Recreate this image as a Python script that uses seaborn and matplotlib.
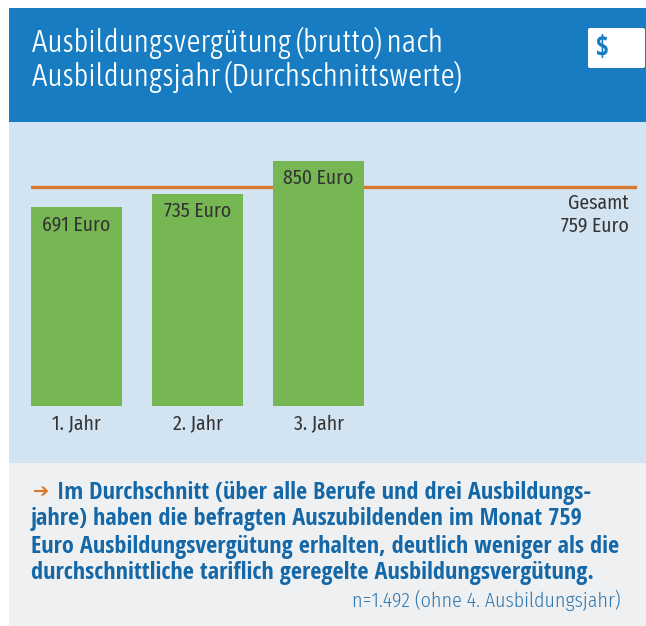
import matplotlib
matplotlib.use("Agg")
import matplotlib.pyplot as plt
from matplotlib.patches import Rectangle, FancyBboxPatch
from matplotlib import font_manager as fm
import seaborn as sns
import pandas as pd

TITLE_LINES = ["Ausbildungsvergütung (brutto) nach", "Ausbildungsjahr (Durchschnittswerte)"]
YEARS = ["1. Jahr", "2. Jahr", "3. Jahr"]
VALUES = [691, 735, 850]
OVERALL = 759
BODY_LINES = ["Im Durchschnitt (über alle Berufe und drei Ausbildungs-",
              "jahre) haben die befragten Auszubildenden im Monat 759",
              "Euro Ausbildungsvergütung erhalten, deutlich weniger als die",
              "durchschnittliche tariflich geregelte Ausbildungsvergütung."]
NOTE = "n=1.492 (ohne 4. Ausbildungsjahr)"

sns.set_theme(style="white")
have = {f.name for f in fm.fontManager.ttflist}
reg_prefs = ["Fira Sans Condensed", "Asap Condensed", "Roboto Condensed", "Open Sans"]
title_prefs = ["Asap Condensed", "Fira Sans Condensed", "Roboto Condensed", "Open Sans"]
bold_prefs = ["Open Sans Condensed", "Fira Sans Condensed", "Asap Condensed", "Open Sans"]
REG = [p for p in reg_prefs if p in have][:1] + ["DejaVu Sans"]
TITLE = [p for p in title_prefs if p in have][:1] + ["DejaVu Sans"]
BOLD = [p for p in bold_prefs if p in have][:1] + ["DejaVu Sans"]
plt.rcParams["font.family"] = REG
W, H = 646, 626
fig = plt.figure(figsize=(W/100, H/100), dpi=100, facecolor="white")

bg = fig.add_axes([0, 0, 1, 1])
bg.set_xlim(0, W); bg.set_ylim(H, 0); bg.axis("off")
bg.add_patch(Rectangle((9, 8), W-9, 114, color="#187CC2", lw=0))
bg.add_patch(Rectangle((9, 122), W-9, 341, color="#D2E4F2", lw=0))
bg.add_patch(Rectangle((9, 463), W-9, 163, color="#EFF0F2", lw=0))
bg.add_patch(FancyBboxPatch((588, 28), 57, 40, boxstyle="round,pad=0,rounding_size=2", color="white", lw=0))
bg.text(602, 48.5, "$", color="#187CC2", fontsize=20, fontweight="bold", ha="center", va="center", family=BOLD)

for y, t in zip((43, 77), TITLE_LINES):
    bg.text(32, y, t, color="white", fontsize=22.5, va="center", ha="left", fontweight=300, family=TITLE)

pxu = 244.7/850
left, right, bottom, top = 31, 636.6, 405.7, 122
ax = fig.add_axes([left/W, 1-bottom/H, (right-left)/W, (bottom-top)/H], facecolor="none", zorder=3)
df = pd.DataFrame({"year": YEARS, "value": VALUES})
ax.axhline(OVERALL, color="#D9782F", lw=2.4, zorder=1)
sns.barplot(data=df, x="year", y="value", color="#76B653", saturation=1, width=91/121, linewidth=0, edgecolor="none", ax=ax, zorder=2)
ax.set_xlim(-91/242, (right-left)/121-91/242)
ax.set_ylim(0, (bottom-top)/pxu)
for s in ax.spines.values():
    s.set_visible(False)
ax.set_yticks([]); ax.set_xlabel(""); ax.set_ylabel("")
ax.tick_params(axis="x", length=0, pad=6.5, labelsize=14.2, labelcolor="#333333")
for i, v in enumerate(VALUES):
    ax.annotate(f"{v} Euro", (i, v), xytext=(0, -17.5*0.72), textcoords="offset points",
                ha="center", va="center", fontsize=14.2, color="#333333", zorder=4)
ax.annotate(f"Gesamt\n{OVERALL} Euro", (1, OVERALL), xycoords=("axes fraction", "data"),
            xytext=(-7.6*0.72, -27*0.72), textcoords="offset points", ha="right", va="center",
            fontsize=14.2, color="#333333", linespacing=1.2)

BLUE = "#1468A8"
bg.text(33, 492, "\u2794", color="#D9782F", fontsize=14, fontweight="bold", family="DejaVu Sans", va="center", ha="left")
for (x, y), t in zip(((57, 493), (31, 519), (31, 547), (31, 573)), BODY_LINES):
    bg.text(x, y, t, color=BLUE, fontsize=17.5, fontweight="bold", va="center", ha="left", family=BOLD)
bg.text(621, 600, NOTE, color="#2F78B0", fontsize=14.3, va="center", ha="right", fontweight=300)

fig.savefig("out.png", dpi=100)
